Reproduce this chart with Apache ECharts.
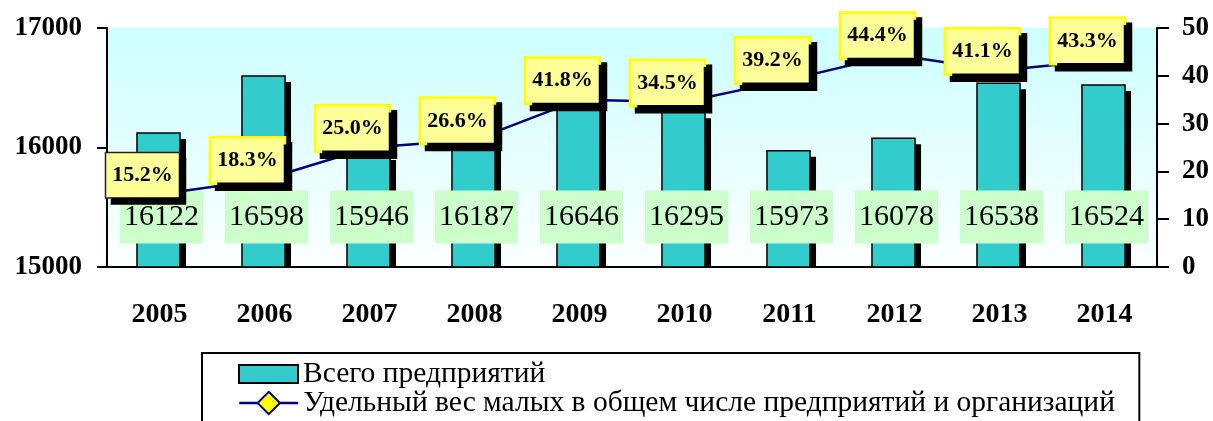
<!DOCTYPE html>
<html>
<head>
<meta charset="utf-8">
<script src="https://cdn.jsdelivr.net/npm/echarts@6/dist/echarts.min.js"></script>
<style>
    html, body { margin: 0; padding: 0; background: #fff; }
    #chart { width: 1213px; height: 421px; }
</style>
</head>
<body>
<div id="chart"></div>
<script type="text/javascript">
    var years = ['2005', '2006', '2007', '2008', '2009', '2010', '2011', '2012', '2013', '2014'];
    var totalEnterprises = [16122, 16598, 15946, 16187, 16646, 16295, 15973, 16078, 16538, 16524];
    var smallShare = [15.2, 18.3, 25.0, 26.6, 35.0, 34.5, 39.2, 44.4, 41.1, 43.3];
    var shareLabels = ['15.2%', '18.3%', '25.0%', '26.6%', '41.8%', '34.5%', '39.2%', '44.4%', '41.1%', '43.3%'];
    var leftTicks = [15000, 16000, 17000];
    var rightTicks = [0, 10, 20, 30, 40, 50];

    var barName = 'Всего предприятий';
    var lineName = 'Удельный вес малых в общем числе предприятий и организаций';
    var serif = '"Liberation Serif", "Times New Roman", serif';

    var myChart = echarts.init(document.getElementById('chart'));

    var lineData = smallShare.map(function (v, i) {
        var item = {value: v};
        if (i === 0) {
            item.label = {borderColor: '#222', borderWidth: 1.5};
        }
        return item;
    });

    var legendText = {fontFamily: serif, fontSize: 29.5, color: '#000', lineHeight: 29};

    var option = {
        animation: false,
        backgroundColor: '#fff',
        grid: {
            left: 107, right: 56, top: 28, bottom: 154,
            show: true,
            borderWidth: 0,
            backgroundColor: new echarts.graphic.LinearGradient(0, 0, 0, 1, [
                {offset: 0, color: '#CCFFFF'},
                {offset: 1, color: '#FCFFFF'}
            ])
        },
        legend: [
            {
                // рамка легенды + первый элемент
                left: 202,
                top: 353,
                padding: [6, 594, 40, 36],
                borderColor: '#000',
                borderWidth: 2,
                itemWidth: 59,
                itemHeight: 18,
                textStyle: legendText,
                data: [
                    {name: barName, icon: 'rect', itemStyle: {color: '#33CCCC', borderColor: '#000', borderWidth: 2}}
                ]
            },
            {
                left: 238,
                top: 388,
                padding: 0,
                itemWidth: 59,
                itemHeight: 28,
                textStyle: legendText,
                lineStyle: {width: 2.5},
                data: [{name: lineName}]
            }
        ],
        xAxis: {
            type: 'category',
            data: years,
            axisLine: {lineStyle: {color: '#000', width: 2}},
            axisTick: {length: 10, lineStyle: {color: '#000', width: 2}},
            axisLabel: {margin: 34, fontFamily: serif, fontSize: 28, fontWeight: 'bold', color: '#000'}
        },
        yAxis: [
            {
                type: 'value',
                min: leftTicks[0],
                max: leftTicks[leftTicks.length - 1],
                interval: leftTicks[1] - leftTicks[0],
                axisLine: {show: true, lineStyle: {color: '#000', width: 2}},
                axisTick: {show: true, length: 10, lineStyle: {color: '#000', width: 2}},
                splitLine: {show: false},
                axisLabel: {
                    margin: 25, fontFamily: serif, fontSize: 27, fontWeight: 'bold', color: '#000',
                    formatter: function (v) { return String(v); }
                }
            },
            {
                type: 'value',
                position: 'right',
                min: rightTicks[0],
                max: rightTicks[rightTicks.length - 1],
                interval: rightTicks[1] - rightTicks[0],
                axisLine: {show: true, lineStyle: {color: '#000', width: 2}},
                axisTick: {show: true, length: 12, lineStyle: {color: '#000', width: 2}},
                splitLine: {show: false},
                axisLabel: {
                    margin: 25, fontFamily: serif, fontSize: 27, fontWeight: 'bold', color: '#000',
                    formatter: function (v) { return String(v); }
                }
            }
        ],
        series: [
            {
                name: barName,
                type: 'custom',
                yAxisIndex: 0,
                z: 2,
                itemStyle: {color: '#33CCCC'},
                encode: {x: 0, y: 1},
                data: totalEnterprises.map(function (v, i) { return [i, v]; }),
                renderItem: function (params, api) {
                    var idx = api.value(0);
                    var top = api.coord([idx, api.value(1)]);
                    var base = api.coord([idx, leftTicks[0]]);
                    var w = api.size([1, 0])[0] * 0.41;
                    var x0 = top[0] - w / 2 - 1;
                    var h = base[1] - top[1];
                    return {
                        type: 'group',
                        children: [
                            {
                                type: 'rect',
                                shape: {x: x0 + 6, y: top[1] + 6, width: w, height: Math.max(h - 6, 0)},
                                style: {fill: '#000'}
                            },
                            {
                                type: 'rect',
                                shape: {x: x0, y: top[1], width: w, height: h},
                                style: {fill: '#33CCCC', stroke: '#000', lineWidth: 1.5}
                            },
                            {
                                type: 'text',
                                x: top[0] + 2,
                                y: base[1] - 50,
                                style: {
                                    text: String(api.value(1)),
                                    fontFamily: serif,
                                    fontSize: 30,
                                    lineHeight: 33,
                                    fill: '#000',
                                    align: 'center',
                                    verticalAlign: 'middle',
                                    backgroundColor: '#CCFFCC',
                                    padding: [10, 4]
                                }
                            }
                        ]
                    };
                }
            },
            {
                name: lineName,
                type: 'line',
                yAxisIndex: 1,
                z: 5,
                data: lineData,
                symbol: 'diamond',
                symbolSize: 14,
                lineStyle: {color: '#000080', width: 2.5},
                itemStyle: {color: '#FFFF00', borderColor: '#000080', borderWidth: 1.5},
                label: {
                    show: true,
                    position: 'inside',
                    offset: [-17, -19],
                    formatter: function (p) { return shareLabels[p.dataIndex]; },
                    fontFamily: serif,
                    fontSize: 22,
                    fontWeight: 'bold',
                    color: '#000',
                    lineHeight: 22,
                    backgroundColor: '#FFFF99',
                    borderColor: '#FFFF00',
                    borderWidth: 2.5,
                    padding: [11, 6],
                    shadowColor: '#000',
                    shadowBlur: 0,
                    shadowOffsetX: 6,
                    shadowOffsetY: 6
                }
            }
        ]
    };
    myChart.setOption(option);
</script>
</body>
</html>
